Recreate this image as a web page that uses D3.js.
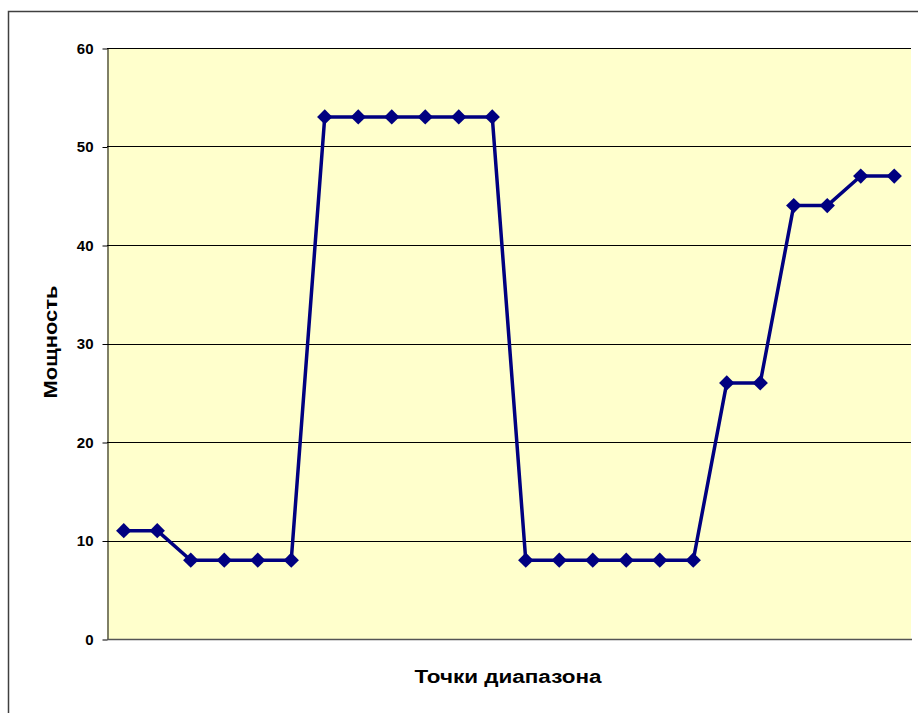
<!DOCTYPE html>
<html><head><meta charset="utf-8">
<script src="https://cdn.jsdelivr.net/npm/d3@7"></script>
<style>
html,body{margin:0;padding:0;background:#fff;}
svg{display:block;}
text{font-family:"Liberation Sans",Arial,sans-serif;font-weight:bold;fill:#000;}
</style></head>
<body>
<script>
const categories = d3.range(1, 25).map(String);
const values = [11, 11, 8, 8, 8, 8, 53, 53, 53, 53, 53, 53, 8, 8, 8, 8, 8, 8, 26, 26, 44, 44, 47, 47];
const yTicks = [0, 10, 20, 30, 40, 50, 60];
const yTitle = "Мощность";
const xTitle = "Точки диапазона";

const W = 918, H = 713;
const svg = d3.select("body").append("svg").attr("width", W).attr("height", H);

// chart frame (cut at right and bottom)
svg.append("rect").attr("x", 8.5).attr("y", 11.5).attr("width", W).attr("height", H)
  .attr("fill", "#fff").attr("stroke", "#404040").attr("stroke-width", 1.5);

const L = 107, R = 911, T = 48, B = 639;
const x = d3.scaleBand().domain(categories).range([L, R]);
const y = d3.scaleLinear().domain([0, 60]).range([B, T]);

svg.append("rect").attr("x", L).attr("y", T).attr("width", R - L).attr("height", B - T)
  .attr("fill", "#FFFFCC");

// gridlines
svg.append("g").selectAll("line").data(yTicks.filter(d => d > 0)).join("line")
  .attr("x1", L).attr("x2", R).attr("y1", d => Math.round(y(d)) + 0.5).attr("y2", d => Math.round(y(d)) + 0.5)
  .attr("stroke", "#000").attr("stroke-width", 1);

// y axis
const yAxis = d3.axisLeft(y).tickValues(yTicks).tickSize(5).tickPadding(9).tickSizeOuter(0);
const gy = svg.append("g").attr("transform", `translate(${L + 0.5},0.5)`).call(yAxis);
gy.select(".domain").attr("stroke", "#000");
gy.selectAll(".tick line").attr("stroke", "#000");
gy.selectAll("text").style("font-size", "15px").style("font-family", "'Liberation Sans',Arial,sans-serif").style("font-weight", "bold").attr("fill", "#000");

// x axis line
svg.append("line").attr("x1", L).attr("x2", R + 1).attr("y1", B + 0.5).attr("y2", B + 0.5)
  .attr("stroke", "#555").attr("stroke-width", 1.5);

// line
const line = d3.line().x((d, i) => x(categories[i]) + x.bandwidth() / 2).y(d => y(d));
svg.append("path").datum(values).attr("d", line)
  .attr("fill", "none").attr("stroke", "#000080").attr("stroke-width", 3.5).attr("stroke-linejoin", "round");

// markers
const sym = d3.symbol().type(d3.symbolDiamond2).size(150);
svg.append("g").selectAll("path").data(values).join("path")
  .attr("transform", (d, i) => `translate(${x(categories[i]) + x.bandwidth() / 2},${y(d)})`)
  .attr("d", sym).attr("fill", "#000080");

// titles
svg.append("text").attr("transform", `translate(57,342) rotate(-90)`)
  .attr("text-anchor", "middle").style("font-size", "18px")
  .attr("textLength", 113).attr("lengthAdjust", "spacingAndGlyphs").text(yTitle);
svg.append("text").attr("x", 508).attr("y", 683)
  .attr("text-anchor", "middle").style("font-size", "18px")
  .attr("textLength", 187).attr("lengthAdjust", "spacingAndGlyphs").text(xTitle);
</script>
</body></html>
